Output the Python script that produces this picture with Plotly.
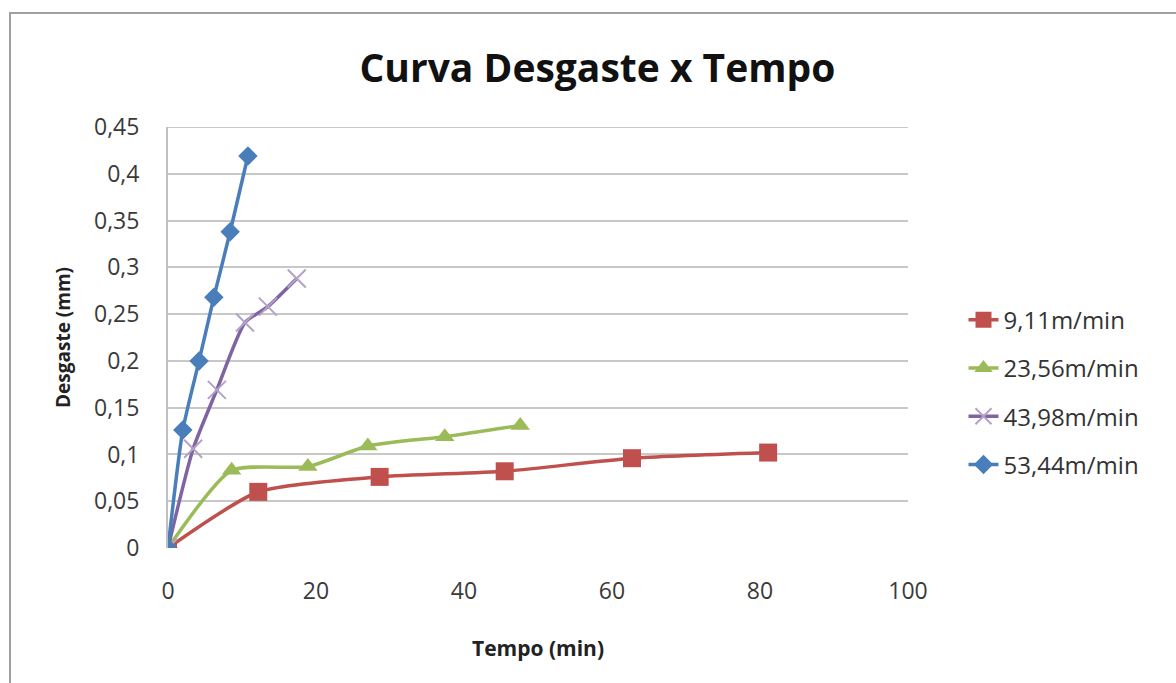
import plotly.graph_objects as go

# Data
x_911 = [0, 12.2, 28.6, 45.5, 62.7, 81.1]
y_911 = [0, 0.060, 0.076, 0.082, 0.096, 0.102]

x_2356 = [0, 8.6, 18.9, 27.0, 37.4, 47.6]
y_2356 = [0, 0.083, 0.087, 0.109, 0.119, 0.131]

x_4398 = [0, 3.4, 6.6, 10.4, 13.5, 17.4]
y_4398 = [0, 0.106, 0.169, 0.241, 0.258, 0.288]

x_5344 = [0, 2.0, 4.2, 6.2, 8.4, 10.8]
y_5344 = [0, 0.126, 0.200, 0.268, 0.338, 0.419]

names = ["9,11m/min", "23,56m/min", "43,98m/min", "53,44m/min"]
colors = ["#C0504D", "#9BBB59", "#8064A2", "#4A7EBB"]
marker_colors = ["#C0504D", "#9BBB59", "#B3A2C7", "#4A7EBB"]
symbols = ["square", "triangle-up", "x-thin", "diamond"]
sizes = [18, 17, 18, 15]

series = [(x_911, y_911), (x_2356, y_2356), (x_4398, y_4398), (x_5344, y_5344)]

fig = go.Figure()
for i, (xs, ys) in enumerate(series):
    marker = dict(symbol=symbols[i], size=sizes[i], color=marker_colors[i])
    if symbols[i] == "x-thin":
        marker["line"] = dict(color=marker_colors[i], width=2)
    fig.add_trace(go.Scatter(
        x=xs, y=ys, name=names[i], mode="lines+markers",
        line=dict(color=colors[i], width=3.5, shape="spline", smoothing=0.6),
        marker=marker, legendgroup=names[i],
    ))

font_family = "Open Sans, Liberation Sans, sans-serif"

fig.update_layout(
    width=1176, height=683,
    paper_bgcolor="white", plot_bgcolor="white",
    margin=dict(l=168, r=268, t=127, b=135),
    separators=",.",
    title=dict(text="<b>Curva Desgaste x Tempo</b>", x=0.508, xanchor="center",
               y=0.9, yanchor="middle",
               font=dict(family=font_family, size=39, color="#111111")),
    xaxis=dict(range=[0, 100], tick0=0, dtick=20, showgrid=False, zeroline=False,
               showline=False, ticks="outside", ticklen=22, tickcolor="rgba(0,0,0,0)",
               tickfont=dict(family=font_family, size=23, color="#3A3A3A"),
               title=dict(text="<b>Tempo (min)</b>", standoff=36,
                          font=dict(family=font_family, size=21, color="#222222"))),
    yaxis=dict(range=[0, 0.45], tick0=0, dtick=0.05, showgrid=True,
               gridcolor="#C8C8C8", gridwidth=2, zeroline=False,
               showline=True, linecolor="#C0C0C0", linewidth=2,
               ticks="outside", ticklen=22, tickcolor="rgba(0,0,0,0)",
               tickfont=dict(family=font_family, size=23, color="#3A3A3A"),
               title=dict(text="<b>Desgaste (mm)</b>", standoff=18,
                          font=dict(family=font_family, size=19, color="#222222"))),
    legend=dict(x=1.075, y=0.37, xanchor="left", yanchor="middle",
                font=dict(family=font_family, size=24, color="#333333"),
                tracegroupgap=14, bgcolor="rgba(0,0,0,0)"),
    showlegend=True,
)

# outer chart border (right/bottom edges fall outside the picture)
fig.add_shape(type="rect", xref="paper", yref="paper",
              x0=-0.2135, x1=1.45, y0=-0.45, y1=1.2708,
              line=dict(color="#A0A0A0", width=2))
# top gridline at 0.45
fig.add_shape(type="line", xref="paper", yref="y", x0=0, x1=1, y0=0.45, y1=0.45,
              line=dict(color="#C8C8C8", width=2), layer="below")

fig.write_html("out.html")
